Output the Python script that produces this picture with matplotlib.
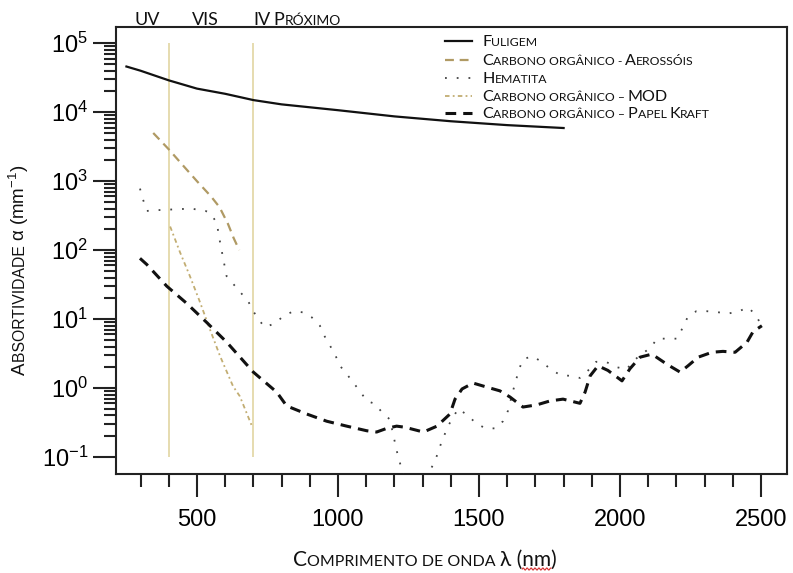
import numpy as np
import matplotlib
matplotlib.use('Agg')
import matplotlib.pyplot as plt
from matplotlib.lines import Line2D
from matplotlib.transforms import IdentityTransform
from matplotlib.font_manager import FontProperties
from matplotlib.ticker import MultipleLocator, LogLocator, FixedLocator, NullFormatter

plt.rcParams['font.family'] = ['Liberation Sans', 'DejaVu Sans']
plt.rcParams['mathtext.default'] = 'regular'

# data (wavelength in nm, absorptivity in mm^-1)
fuligem_nm = [250, 300, 400, 500, 600, 700, 800, 1000, 1200, 1400, 1600, 1800]
fuligem_val = [4.6e4, 4.0e4, 2.9e4, 2.2e4, 1.85e4, 1.5e4, 1.3e4, 1.07e4, 8.7e3, 7.4e3, 6.5e3, 5.9e3]

aero_nm = [345, 400, 450, 500, 550, 580, 610, 630, 650]
aero_val = [5.0e3, 2.9e3, 1.7e3, 1.0e3, 6.0e2, 4.2e2, 2.4e2, 1.5e2, 1.0e2]

hema_nm = [298, 309, 322, 360, 420, 480, 530, 546, 570, 582, 605, 652, 682, 700, 717,
           741, 777, 806, 842, 877, 907, 936, 953, 989, 1007, 1031, 1054, 1078, 1102,
           1131, 1155, 1184, 1209, 1240, 1300, 1344, 1365, 1390, 1426, 1461, 1492, 1525,
           1560, 1585, 1603, 1621, 1642, 1656, 1688, 1723, 1752, 1787, 1823, 1858, 1887,
           1915, 1950, 1989, 2024, 2046, 2077, 2110, 2131, 2167, 2202, 2223, 2238, 2270,
           2308, 2345, 2383, 2422, 2454, 2479, 2503]
hema_val = [780, 540, 370, 380, 390, 400, 370, 350, 250, 130, 42, 25, 18, 13, 10,
            7.6, 8.7, 11, 13, 12.5, 10.6, 8, 5.6, 3.1, 2.1, 1.6, 1.2, 0.9, 0.65,
            0.59, 0.45, 0.35, 0.12, 0.04, 0.04, 0.087, 0.155, 0.28, 0.5, 0.4, 0.30, 0.26,
            0.26, 0.33, 0.47, 0.92, 1.87, 2.6, 2.9, 2.4, 1.9, 1.55, 1.5, 1.4, 1.8,
            2.4, 2.4, 2.0, 1.87, 2.45, 3.1, 3.9, 5.2, 5.2, 5.2, 7.6, 10.3, 13,
            13, 12.6, 12, 13, 14.8, 11.7, 8]

mod_nm = [405, 440, 475, 511, 546, 582, 628, 652, 695]
mod_val = [220, 93, 42, 17.5, 7.1, 2.9, 1.06, 0.76, 0.28]

kraft_nm = [298, 322, 393, 463, 535, 606, 700, 783, 818, 889, 960, 1031, 1102, 1137,
            1173, 1208, 1237, 1303, 1351, 1397, 1415, 1440, 1479, 1528, 1574, 1610,
            1656, 1705, 1752, 1798, 1858, 1876, 1894, 1922, 1957, 2007, 2035, 2071,
            2113, 2167, 2213, 2241, 2277, 2326, 2365, 2408, 2450, 2472, 2503]
kraft_val = [76, 62, 30, 17, 8.9, 4.6, 1.7, 0.87, 0.55, 0.42, 0.33, 0.28, 0.24, 0.23,
             0.26, 0.28, 0.27, 0.23, 0.28, 0.42, 0.69, 0.97, 1.18, 1.03, 0.91, 0.74,
             0.53, 0.57, 0.65, 0.69, 0.60, 0.87, 1.5, 2.1, 1.8, 1.27, 1.9, 2.8,
             3.1, 2.2, 1.7, 2.1, 2.8, 3.3, 3.4, 3.3, 4.6, 6.6, 8]

region_bounds = [400, 700]
series_labels = ['Fuligem', 'Carbono orgânico - Aerossóis', 'Hematita',
                 'Carbono orgânico – <MOD>', 'Carbono orgânico – Papel Kraft']

W, H = 793, 573
fig = plt.figure(figsize=(W / 100, H / 100), dpi=100)
ax = fig.add_axes([116 / W, 1 - 474 / H, (787 - 116) / W, (474 - 27) / H])
renderer = fig.canvas.get_renderer()

ax.set_yscale('log')
ax.set_xlim(213, 2592)
ax.set_ylim(10 ** -1.247, 10 ** 5.236)

ax.vlines(region_bounds, 0.1, 1e5, color='#e2d5a2', lw=1.2, zorder=1)

styles = [
    dict(color='#111111', lw=1.6, ls='-'),
    dict(color='#b09a64', lw=1.6, ls=(0, (4, 2.6))),
    dict(color='#444444', lw=1.3, ls=(0, (1, 5.5))),
    dict(color='#c2ad72', lw=1.3, ls=(0, (2.5, 1.8, 1, 1.8))),
    dict(color='#111111', lw=2.2, ls=(0, (3.5, 2.3))),
]
series = [(fuligem_nm, fuligem_val), (aero_nm, aero_val), (hema_nm, hema_val),
          (mod_nm, mod_val), (kraft_nm, kraft_val)]
for (xs, ys), st in zip(series, styles):
    ax.plot(xs, ys, color=st['color'], lw=st['lw'], ls=st['ls'], zorder=3)

# ticks
ax.xaxis.set_major_locator(MultipleLocator(500))
ax.xaxis.set_minor_locator(MultipleLocator(100))
ax.yaxis.set_major_locator(LogLocator(base=10, numticks=20))
ax.yaxis.set_minor_locator(FixedLocator([m * 10.0 ** k for k in range(-1, 5) for m in range(2, 10)]))
ax.yaxis.set_minor_formatter(NullFormatter())
ax.tick_params(which='major', length=16.5, width=1.5, color='#222222', labelsize=17)
ax.tick_params(which='minor', length=9, width=1.5, color='#222222')
ax.tick_params(axis='y', which='major', pad=3.5)
ax.tick_params(axis='x', which='major', pad=9)
for sp in ax.spines.values():
    sp.set_linewidth(1.5)
    sp.set_color('#222222')

sc_family = ['Lato', 'DejaVu Sans']


def text_w(s, size, family):
    prop = FontProperties(family=family, size=size)
    w, h, d = renderer.get_text_width_height_descent(s, prop, ismath='$' in s)
    return w


def advance(s, size, family):
    return text_w('|' + s + '|', size, family) - text_w('||', size, family)


def small_caps(x, y, s, big, small, family=sc_family, rot=0, ha='left', color='#111111'):
    # x, y are pixel positions in the image (top-left origin), y is the baseline
    runs = []
    plain = False
    for ch in s:
        if ch == '<':
            plain = True
            continue
        if ch == '>':
            plain = False
            continue
        if plain or ch.isupper():
            piece, size = ch, big
        elif ch.islower():
            piece, size = ch.upper(), small
        else:
            piece, size = ch, small
        if runs and runs[-1][1] == size:
            runs[-1][0] += piece
        else:
            runs.append([piece, size])
    widths = [advance(r, sz, family) for r, sz in runs]
    total = sum(widths)
    pos = -total / 2 if ha == 'center' else 0
    placed = []
    for (r, sz), w in zip(runs, widths):
        if rot == 0:
            xd, yd = x + pos, H - y
        else:
            xd, yd = x, H - y + pos
        fig.text(xd, yd, r, fontsize=sz, family=family, rotation=rot,
                 rotation_mode='anchor', ha='left', va='baseline', color=color,
                 transform=IdentityTransform())
        placed.append((r, sz, xd))
        pos += w
    return placed


# spectral regions above the plot
small_caps(135, 25, 'UV', 13, 10)
small_caps(192, 25, 'VIS', 13, 10)
small_caps(253, 25, 'IV Próximo', 13, 10)

# legend
leg_y = [41, 60, 78, 96, 113]
for lab, st, yy in zip(series_labels, styles, leg_y):
    fig.add_artist(Line2D([445, 472], [H - yy, H - yy], color=st['color'], lw=st['lw'],
                          ls=st['ls'], transform=IdentityTransform()))
    small_caps(482, yy + 5, lab, 11.6, 8.8)

# axis labels
xl = small_caps(425, 566, 'Comprimento de onda <λ (nm)>', 15, 11.5, ha='center')
small_caps(25, 270, 'Absortividade <α (mm$^{-1}$)>', 13.5, 11.3,
           family=['Liberation Sans', 'DejaVu Sans'], rot=90, ha='center')

# red spell-check squiggle under "nm" as in the source image
r, sz, x0 = xl[-1]
a = x0 + advance('λ (', sz, sc_family)
b = x0 + advance('λ (nm', sz, sc_family)
sx = np.linspace(a, b, 40)
fig.add_artist(Line2D(sx, H - 569 + 1.1 * np.sin((sx - a) * 1.6), color='#d42a2a', lw=0.8,
                      transform=IdentityTransform()))

fig.savefig('out.png', dpi=100)
